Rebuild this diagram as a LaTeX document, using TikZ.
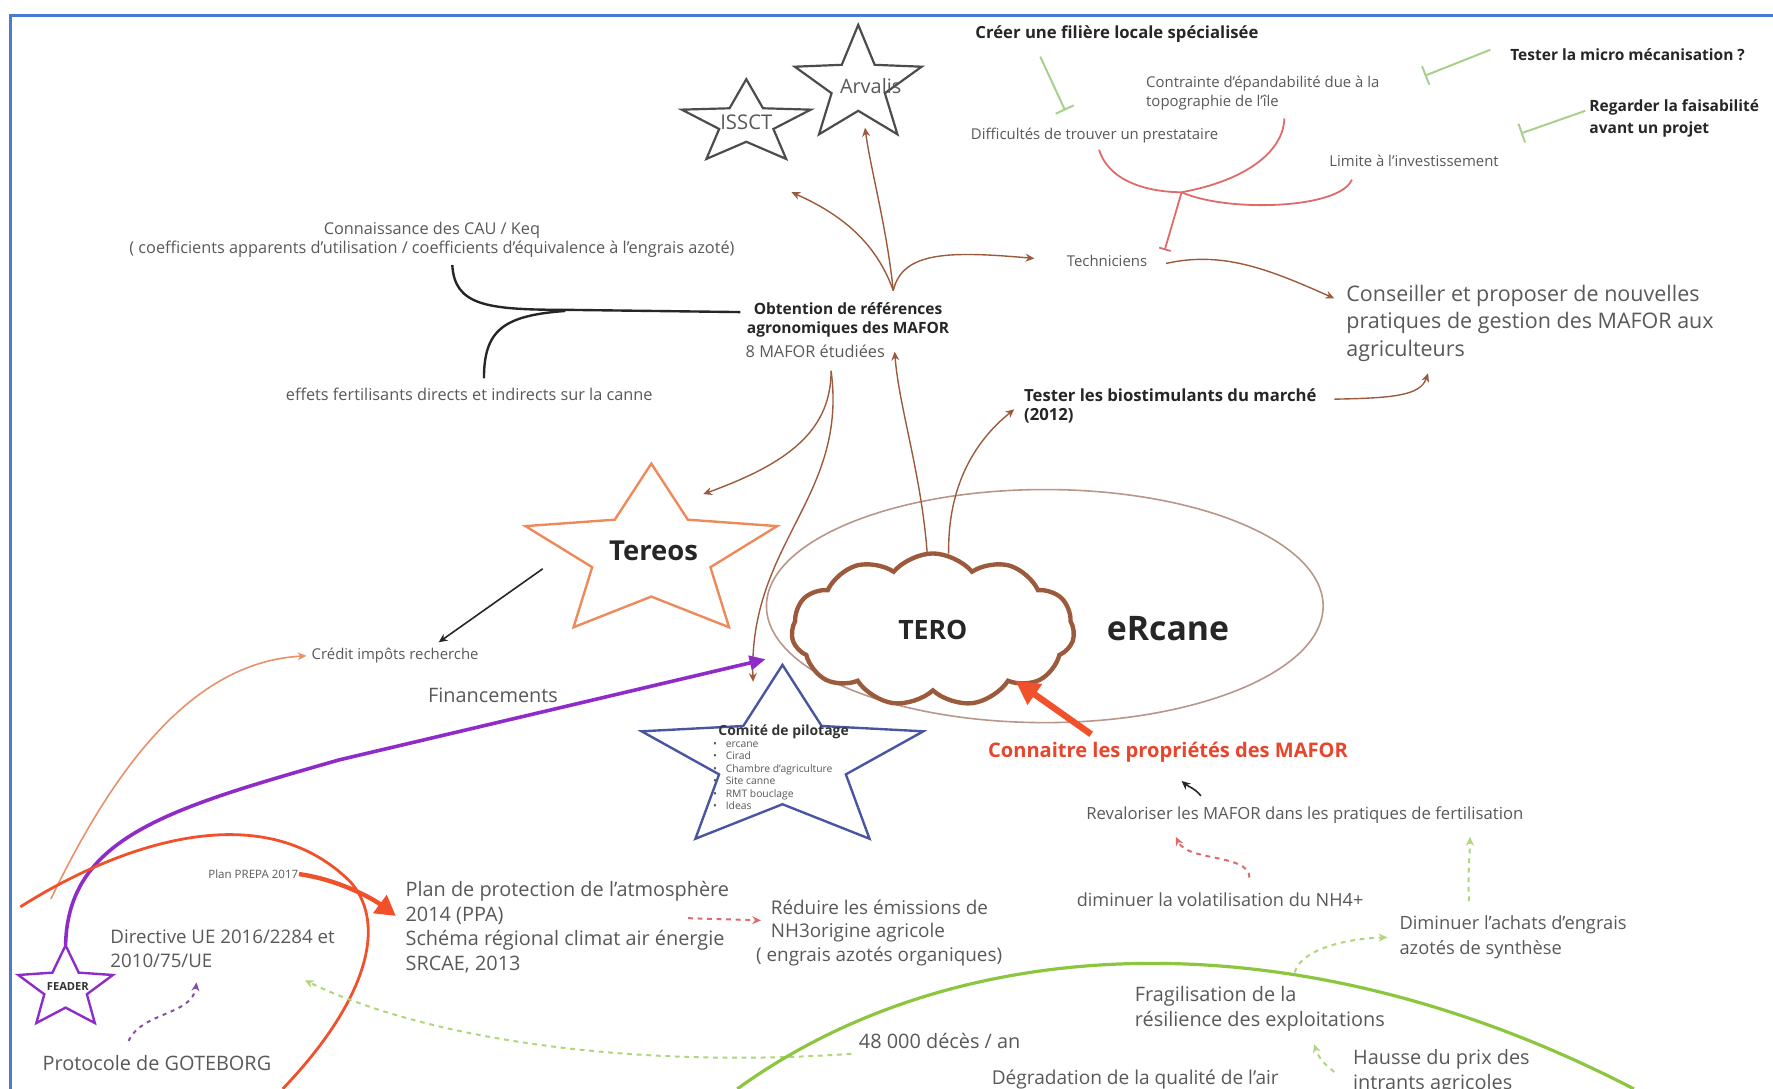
\documentclass[tikz,border=0pt]{standalone}
\usepackage{fontspec}
\setmainfont{Open Sans}
\usetikzlibrary{arrows.meta,shapes.geometric,shapes.symbols,calc}

\definecolor{txtgray}{HTML}{595959}
\definecolor{brn}{HTML}{9C5A3C}
\definecolor{grn}{HTML}{8CC63F}
\definecolor{grbarc}{HTML}{A8D08D}
\definecolor{pinkc}{HTML}{E06A6A}
\definecolor{redc}{HTML}{F0502A}
\definecolor{redt}{HTML}{E8452C}
\definecolor{purc}{HTML}{8E2BC9}
\definecolor{bluestar}{HTML}{4A55A2}
\definecolor{tereosc}{HTML}{EE8A5A}
\definecolor{ellc}{HTML}{B8968A}
\definecolor{framec}{HTML}{4A7BD0}
\definecolor{orgc}{HTML}{E8906A}

\newcommand\mystar[6]{%
  \begin{scope}[shift={(#2,#3)},xscale=#4,yscale=#5]
    \draw[#1] (-90:1) -- (-54:#6) -- (-18:1) -- (18:#6) -- (54:1) -- (90:#6)
      -- (126:1) -- (162:#6) -- (198:1) -- (234:#6) -- cycle;
  \end{scope}}
\newcommand\combul{\textbullet\hspace{2.2pt}}

\tikzset{
  lbl/.style={inner sep=0pt, text=txtgray, align=left},
  bigt/.style={lbl, font=\fontsize{5}{6.2}\selectfont},
  midt/.style={lbl, font=\fontsize{4.6}{6.2}\selectfont},
  smt/.style={lbl, font=\fontsize{3.75}{4.8}\selectfont},
  smlt/.style={lbl, font=\fontsize{4.1}{4.8}\selectfont},
  bldt/.style={lbl, text=black!85, font=\bfseries\fontsize{3.9}{4.8}\selectfont},
  tip/.style={-{Stealth[length=2.2pt,width=2pt]}},
  brnarr/.style={draw=brn, line width=0.35pt, tip},
  blkln/.style={draw=black!85, line width=0.6pt},
  blkarr/.style={draw=black!85, line width=0.4pt, tip},
  orgarr/.style={draw=orgc, line width=0.4pt, tip},
  purarr/.style={draw=purc, line width=0.9pt, -{Triangle[length=4pt,width=3.6pt]}},
  redln/.style={draw=redc, line width=0.7pt},
  redarr/.style={draw=redc, line width=1.1pt, -{Triangle[length=5pt,width=5.5pt]}},
  grdash/.style={draw=grn!70!white, line width=0.5pt, dash pattern=on 1.2pt off 1.2pt, tip},
  pinkdash/.style={draw=pinkc, line width=0.5pt, dash pattern=on 1.2pt off 1.2pt, tip},
  purdot/.style={draw=purc!60!gray, line width=0.5pt, dash pattern=on 1pt off 1.2pt, tip},
  grbar/.style={draw=grbarc, line width=0.5pt, -{Bar[width=5pt]}},
  pinkln/.style={draw=pinkc, line width=0.45pt},
  pinkbar/.style={draw=pinkc, line width=0.45pt, -{Bar[width=3pt]}},
}

\begin{document}
\begin{tikzpicture}[x=0.01cm,y=-0.01cm]
\useasboundingbox (0,0) rectangle (1568,963);
\fill[white] (0,0) rectangle (1568,963);
\draw[framec, line width=0.8pt] (9,963) -- (9,14) -- (1568,14);

% ---------- stars ----------
\mystar{draw=black!70, line width=0.55pt}{660}{109}{60}{39}{0.42}
\mystar{draw=black!70, line width=0.55pt}{759}{75.5}{59}{53.5}{0.42}
\mystar{draw=tereosc, line width=0.6pt}{576}{490}{117}{80}{0.47}
\mystar{draw=bluestar, line width=0.6pt}{692}{673}{131}{85}{0.45}
\mystar{draw=purc, line width=0.6pt}{58}{874}{44}{38}{0.45}

\node[lbl, text=black!65, font=\fontsize{5.1}{6}\selectfont] (issct) at (660,108) {ISSCT};
\node[lbl, text=black!65, font=\fontsize{5}{6}\selectfont] (arvalis) at (770,76) {Arvalis};
\node[lbl, text=black!85, font=\bfseries\fontsize{6.9}{7.5}\selectfont] (tereos) at (578,487) {Tereos};
\node[lbl, text=black!80, font=\bfseries\fontsize{2.8}{3}\selectfont] (feader) at (60,872) {FEADER};
\node[lbl, text=black!80, font=\bfseries\fontsize{3.5}{4}\selectfont] (comite) at (693,647) {Comité de pilotage};
\node[lbl, font=\fontsize{2.6}{3.15}\selectfont, anchor=north west] (comlist) at (630,655)
  {\combul ercane\\\combul Cirad\\\combul Chambre d'agriculture\\\combul Site canne\\\combul RMT bouclage\\\combul Ideas};

% ---------- ellipse and cloud ----------
\node[ellipse, draw=ellc, line width=0.4pt, minimum width=4.92cm, minimum height=2.06cm] (ercell) at (924,536) {};
\node[cloud, cloud puffs=11, cloud puff arc=100, aspect=1.9, draw=brn, line width=1.1pt, fill=white,
      minimum width=2.5cm, minimum height=1.35cm, inner sep=0pt,
      text=black!85, font=\bfseries\fontsize{6.7}{7}\selectfont] (tero) at (825,557) {TERO};
\node[lbl, text=black!85, font=\bfseries\fontsize{8.5}{9}\selectfont] (ercane) at (1033,556) {eRcane};

% ---------- text nodes ----------
\node[smlt, align=center] (connais) at (382,212) {Connaissance des CAU / Keq\\( coefficients apparents d'utilisation / coefficients d'équivalence à l'engrais azoté)};
\node[smlt] (effets) at (415,349) {effets fertilisants directs et indirects sur la canne};
\node[bldt, align=center] (obt) at (750,283) {Obtention de références\\agronomiques des MAFOR};
\node[smlt] (mafor8) at (721,311) {8 MAFOR étudiées};
\node[smt] (techn) at (979,231) {Techniciens};
\node[lbl, anchor=west, font=\fontsize{5.4}{6.8}\selectfont] (conseil) at (1190,286) {Conseiller et proposer de nouvelles\\pratiques de gestion des MAFOR aux\\agriculteurs};
\node[bldt, anchor=west, font=\bfseries\fontsize{4.2}{4.8}\selectfont] (testor) at (905,359) {Tester les biostimulants du marché\\(2012)};
\node[bldt, anchor=west, font=\bfseries\fontsize{4.2}{4.8}\selectfont] (creer) at (862,30) {Créer une filière locale spécialisée};
\node[smt, anchor=west] (contr) at (1013,82) {Contrainte d'épandabilité due à la\\topographie de l'île};
\node[smt, anchor=west] (diffic) at (858,120) {Difficultés de trouver un prestataire};
\node[smt, anchor=west] (limite) at (1175,142) {Limite à l'investissement};
\node[bldt, anchor=west] (micro) at (1335,48) {Tester la micro mécanisation ?};
\node[bldt, anchor=west, font=\bfseries\fontsize{3.9}{5.6}\selectfont] (regard) at (1405,105) {Regarder la faisabilité\\avant un projet};
\node[smt, anchor=west] (credit) at (275,580) {Crédit impôts recherche};
\node[bigt] (financ) at (436,615) {Financements};
\node[lbl, text=redt, font=\bfseries\fontsize{5.05}{5.5}\selectfont] (connaitre) at (1033,665) {Connaitre les propriétés des MAFOR};
\node[smlt, font=\fontsize{4.2}{5}\selectfont] (revalo) at (1154,721) {Revaloriser les MAFOR dans les pratiques de fertilisation};
\node[midt, font=\fontsize{4.55}{6.2}\selectfont] (dimvol) at (1079,796) {diminuer la volatilisation du NH4+};
\node[midt, anchor=west, font=\fontsize{4.6}{6.4}\selectfont] (dimach) at (1237,829) {Diminuer l'achats d'engrais\\azotés de synthèse};
\node[bigt, anchor=west] (fragil) at (1003,892) {Fragilisation de la\\résilience des exploitations};
\node[bigt, anchor=west] (hausse) at (1196,948) {Hausse du prix des\\intrants agricoles};
\node[bigt, font=\fontsize{4.8}{6}\selectfont] (degrad) at (1004,955) {Dégradation de la qualité de l'air};
\node[bigt] (deces) at (831,921) {48 000 décès / an};
\node[midt, anchor=west, font=\fontsize{4.75}{5.9}\selectfont] (reduire) at (681,825) {Réduire les émissions de\\NH3origine agricole\\\hspace*{-1.3mm}( engrais azotés organiques)};
\node[bigt, anchor=west] (planprot) at (358,820) {Plan de protection de l'atmosphère\\2014 (PPA)\\Schéma régional climat air énergie\\SRCAE, 2013};
\node[lbl, font=\fontsize{2.9}{3.3}\selectfont] (prepa) at (224,773) {Plan PREPA 2017};
\node[midt, anchor=west, font=\fontsize{4.7}{6.2}\selectfont] (directive) at (97,839) {Directive UE 2016/2284 et\\2010/75/UE};
\node[bigt, anchor=west] (protocole) at (37,940) {Protocole de GOTEBORG};

% ---------- named free ends ----------
\coordinate (obthub) at (790,257);
\coordinate (obtbot) at (735,328);
\coordinate (arvpt) at (765,113);
\coordinate (isspt) at (700,170);
\coordinate (terpt) at (622,437);
\coordinate (compt) at (666,603);
\coordinate (fork) at (1045,170);
\coordinate (gpt) at (1145,860);
\coordinate (feadtop) at (58,836);
\coordinate (finpt) at (677,583);
\coordinate (terleft) at (480,503);
\coordinate (creditpt) at (388,568);
\coordinate (orgstart) at (45,795);
\coordinate (teropt) at (898,602);

% ---------- connectors ----------
\draw[brnarr] (obthub) .. controls (784,200) and (770,150) .. (arvpt);
\draw[brnarr] (obthub) .. controls (775,215) and (745,190) .. (isspt);
\draw[brnarr, shorten >=8pt] (obthub) .. controls (798,222) and (840,222) .. (techn.west);
\draw[blkln] ($(connais.south)+(18,6)$) .. controls (402,270) and (430,274) .. (500,274) -- ($(obt.west)+(-5,-7)$);
\draw[blkln] ($(effets.north)+(13,-8)$) .. controls (428,292) and (445,279) .. (500,275);
\draw[brnarr] (obtbot) .. controls (735,385) and (690,412) .. (terpt);
\draw[brnarr] (obtbot) .. controls (750,440) and (662,480) .. (compt);
\draw[brnarr] ($(tero.north)+(-5,2)$) .. controls (815,420) and (795,360) .. ($(mafor8.east)+(8,0)$);
\draw[brnarr] ($(tero.north)+(14,2)$) .. controls (838,430) and (862,390) .. ($(testor.west)+(-8,3)$);
\draw[brnarr] ($(techn.east)+(16,2)$) .. controls (1080,222) and (1120,237) .. ($(conseil.north west)+(-10,12)$);
\draw[brnarr] ($(testor.east)+(15,-6)$) .. controls (1232,352) and (1256,350) .. ($(conseil.south west)+(73,10)$);
\draw[blkarr] (terleft) -- (creditpt);
\draw[orgarr] (orgstart) .. controls (110,660) and (180,585) .. ($(credit.west)+(-4,0)$);
\draw[purarr] (feadtop) .. controls (60,740) and (150,715) .. (300,672) -- (finpt);
\draw[redln] (18,802) .. controls (100,750) and (230,700) .. (310,780) .. controls (345,820) and (320,890) .. (250,963);
\draw[redarr] (prepa.east) .. controls (300,778) and (330,795) .. ($(planprot.west)+(-8,-10)$);
\draw[purdot] ($(protocole.north)+(-25,-12)$) .. controls (125,895) and (170,898) .. ($(directive.south)+(-23,12)$);
\draw[pinkdash] ($(planprot.east)+(-37,-8)$) -- ($(reduire.west)+(-8,-11)$);
\draw[grdash] ($(deces.west)+(-6,11)$) .. controls (560,945) and (380,920) .. ($(directive.east)+(-27,28)$);
\draw[draw=grn, line width=0.8pt] (652,963) .. controls (850,820) and (1150,810) .. (1445,963);
\draw[grdash] ($(hausse.west)+(-16,0)$) .. controls (1170,940) and (1166,935) .. ($(fragil.south)+(48,11)$);
\draw[grdash] (gpt) .. controls (1150,840) and (1190,830) .. ($(dimach.west)+(-10,0)$);
\draw[grdash] ($(dimach.north)+(-39,-12)$) .. controls (1298,770) and (1300,755) .. ($(revalo.south)+(146,11)$);
\draw[pinkdash] ($(dimvol.north)+(26,-13)$) .. controls (1105,755) and (1050,762) .. ($(revalo.south)+(-114,11)$);
\draw[blkarr] ($(revalo.north)+(-92,-9)$) .. controls (1058,698) and (1050,695) .. ($(connaitre.south)+(12,16)$);
\draw[redc, line width=1.6pt, -{Triangle[length=6pt,width=6pt]}] ($(connaitre.north)+(-68,-6)$) -- (teropt);
\draw[grbar] ($(creer.south west)+(58,12)$) -- ($(diffic.north west)+(84,-15)$);
\draw[grbar] ($(micro.west)+(-17,-4)$) -- ($(micro.west)+(-75,19)$);
\draw[grbar] ($(regard.west)+(-3,-7)$) -- ($(regard.west)+(-60,13)$);
\draw[pinkln] ($(diffic.south)+(4,5)$) .. controls (982,165) and (1025,170) .. (fork) .. controls (1100,160) and (1135,135) .. ($(contr.south)+(19,7)$);
\draw[pinkln] (fork) .. controls (1085,188) and (1185,185) .. ($(limite.south)+(-55,11)$);
\draw[pinkbar] (fork) -- ($(techn.north)+(51,-4)$);
\end{tikzpicture}
\end{document}
